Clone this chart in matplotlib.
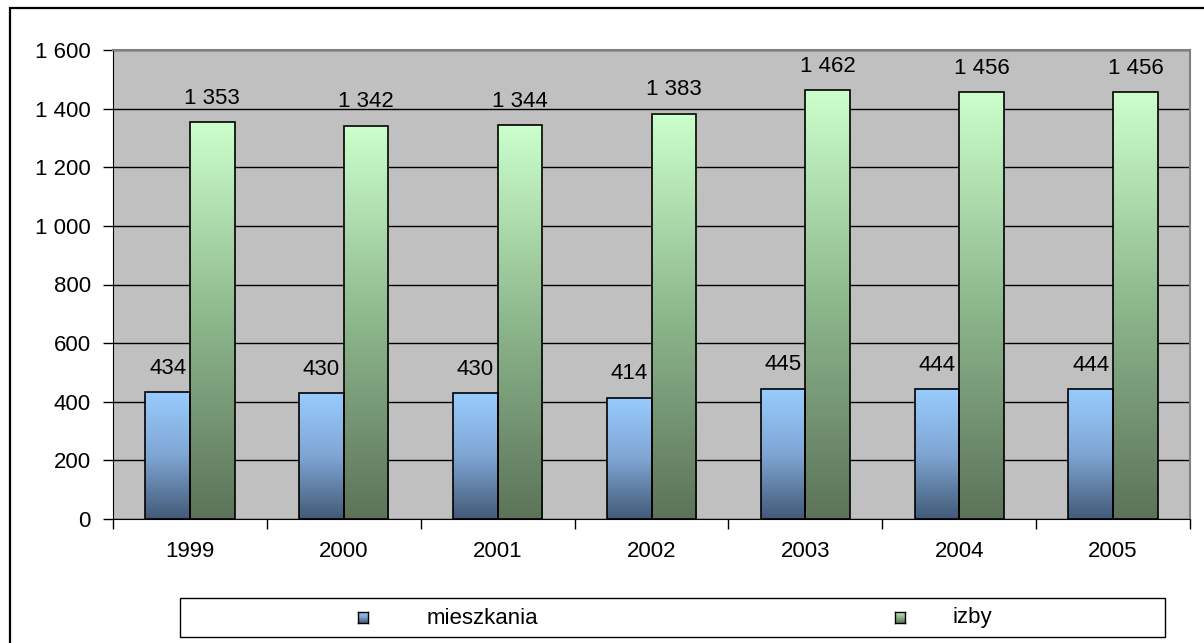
import numpy as np
import matplotlib
matplotlib.use("Agg")
import matplotlib.pyplot as plt
from matplotlib.patches import Rectangle
from matplotlib.colors import LinearSegmentedColormap

plt.rcParams['font.family'] = ['Liberation Sans', 'DejaVu Sans']

years = ['1999', '2000', '2001', '2002', '2003', '2004', '2005']
mieszkania = [434, 430, 430, 414, 445, 444, 444]
izby = [1353, 1342, 1344, 1383, 1462, 1456, 1456]
series_names = ['mieszkania', 'izby']
yticks = [0, 200, 400, 600, 800, 1000, 1200, 1400, 1600]

W, H = 1204, 643
FS = 16
fig = plt.figure(figsize=(W / 100, H / 100), dpi=100)
fig.patch.set_facecolor('white')

# outer frame
fig.add_artist(Rectangle((10 / W, -0.1), 1.2, (H - 8) / H + 0.1, transform=fig.transFigure,
                         fill=False, edgecolor='black', linewidth=1.6, zorder=-5))

ax = fig.add_axes([113 / W, (H - 519) / H, 1077 / W, 469 / H])
ax.set_facecolor('#C0C0C0')

blue_cmap = LinearSegmentedColormap.from_list('b', ['#435A78', '#7FA6D4', '#99CCFF'])
green_cmap = LinearSegmentedColormap.from_list('g', ['#5C735A', '#8DB78D', '#CCFFCC'])
grad = np.linspace(0, 1, 256).reshape(-1, 1)

bw = 0.29
x = np.arange(len(years))
for i in range(len(years)):
    for val, off, cmap in ((mieszkania[i], -bw, blue_cmap), (izby[i], 0, green_cmap)):
        x0 = x[i] + off
        ax.imshow(grad, extent=[x0, x0 + bw, 0, val], origin='lower', cmap=cmap,
                  aspect='auto', zorder=3, interpolation='bilinear')
        ax.add_patch(Rectangle((x0, 0), bw, val, fill=False, edgecolor='black',
                               linewidth=1.2, zorder=4))
        label = f"{val:,}".replace(',', ' ')
        ax.text(x0 + bw / 2, val + 45, label, ha='center', va='bottom', fontsize=FS, zorder=5)

ax.set_xlim(-0.5, len(years) - 0.5)
ax.set_ylim(0, 1600)
ax.set_yticks(yticks)
ax.set_yticklabels([f"{t:,}".replace(',', ' ') for t in yticks], fontsize=FS)
ax.yaxis.grid(True, color='black', linewidth=1.0, zorder=1)
ax.set_axisbelow(True)
ax.set_xticks(np.arange(len(years) + 1) - 0.5)
ax.set_xticklabels([])
ax.set_xticks(x, minor=True)
ax.set_xticklabels(years, minor=True, fontsize=FS)
ax.tick_params(axis='x', which='minor', length=0, pad=16)
ax.tick_params(axis='x', which='major', length=7, color='black', width=1)
ax.tick_params(axis='y', length=7, color='black', width=1, pad=9)
for s in ['top', 'right']:
    ax.spines[s].set_color('#808080')
    ax.spines[s].set_linewidth(1.5)
ax.spines['left'].set_color('black')
ax.spines['bottom'].set_color('black')

# legend
fig.add_artist(Rectangle((180 / W, (H - 637) / H), 985 / W, 39 / H, transform=fig.transFigure,
                         facecolor='white', edgecolor='black', linewidth=1.0, zorder=-1))
for name, cmap, mx, tx in ((series_names[0], blue_cmap, 363, 427), (series_names[1], green_cmap, 900, 953)):
    lax = fig.add_axes([(mx - 5) / W, (H - 623) / H, 10 / W, 11 / H], zorder=5)
    lax.imshow(grad, origin='lower', cmap=cmap, aspect='auto', extent=[0, 1, 0, 1])
    lax.set_xticks([]); lax.set_yticks([])
    for sp in lax.spines.values():
        sp.set_linewidth(1.0); sp.set_color('black')
    fig.text(tx / W, (H - 618) / H, name, fontsize=FS, va='center', ha='left', zorder=6)

fig.savefig('out.png', dpi=100)
